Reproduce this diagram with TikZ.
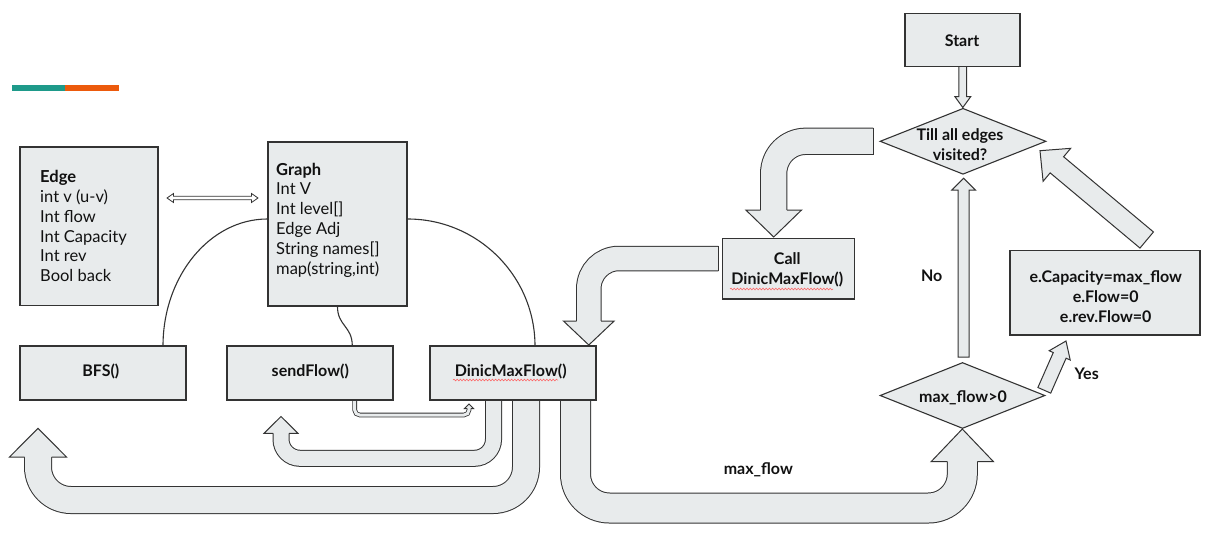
\documentclass[tikz,border=0pt]{standalone}
\usepackage{fontspec}
\setmainfont{Lato}
\usetikzlibrary{calc,shapes.geometric,decorations.pathmorphing}

\definecolor{boxfill}{RGB}{232,235,236}
\definecolor{ink}{RGB}{51,51,51}
\definecolor{txt}{RGB}{17,17,17}
\definecolor{barteal}{RGB}{30,154,138}
\definecolor{barorange}{RGB}{236,90,12}

% closed block arrow: start #1, tip #2, half shaft #3, half head #4, head length #5
\newcommand\fatarrow[5]{%
  \coordinate (fa-base) at ($(#2)!#5!(#1)$);
  \filldraw[blockarrow] ($(#1)!#3!90:(#2)$) -- ($(fa-base)!#3!90:(#2)$)
    -- ($(fa-base)!#4!90:(#2)$) -- (#2) -- ($(fa-base)!#4!-90:(#2)$)
    -- ($(fa-base)!#3!-90:(#2)$) -- ($(#1)!#3!-90:(#2)$) -- cycle;}
% open arrow head on a doubled shaft: base #1, tip #2, half shaft #3, half head #4
\newcommand\fathead[4]{%
  \filldraw[blockarrow] ($(#1)!#3!90:(#2)$) -- ($(#1)!#4!90:(#2)$) -- (#2)
    -- ($(#1)!#4!-90:(#2)$) -- ($(#1)!#3!-90:(#2)$);}

\begin{document}
\begin{tikzpicture}[x=1pt,y=-1pt,
  box/.style={draw=ink, line width=1.3pt, fill=boxfill, rectangle, inner sep=0pt},
  dia/.style={draw=ink, line width=1.1pt, fill=boxfill, diamond, inner sep=0pt},
  lbl/.style={font=\fontsize{16}{20}\selectfont\bfseries, text=txt, inner sep=0pt, align=center, anchor=base},
  listtxt/.style={font=\fontsize{16.5}{19.8}\selectfont, text=txt, inner sep=0pt, align=left, anchor=base west},
  blockarrow/.style={draw=ink, line width=1pt, fill=boxfill, line join=miter},
  fatshaft/.style={draw=ink, line width=1pt, double=boxfill, double distance=#1},
  link/.style={draw=ink, line width=1.1pt},
  squiggle/.style={draw=red!65!white, line width=0.5pt, decorate,
    decoration={snake, amplitude=0.9pt, segment length=3.2pt}}]

\fill[white] (0,0) rectangle (1209,555);
\useasboundingbox (0,0) rectangle (1209,555);

% header bar
\fill[barteal] (12,85) rectangle (65,91);
\fill[barorange] (65,85) rectangle (119,91);

% box positions
\coordinate (pEdge) at (89,226.3);
\coordinate (pGraph) at (337.5,224);

% links from the Graph structure to its methods
\node[box, minimum width=139pt, minimum height=164pt] (graph) at (pGraph) {};
\draw[link] ([yshift=5pt]graph.west) .. controls (210,219) and (163,276) .. (163,346) coordinate (bfsjoin);
\draw[link] ([yshift=5pt]graph.east) .. controls (477.7,219) and (535,276) .. (535,346) coordinate (dinicjoin);
\draw[link] (graph.south) .. controls (337.5,326) and (352.3,326) .. (352.3,346) coordinate (sendjoin);

% return arrows out of DinicMaxFlow()
\draw[fatshaft=26pt, rounded corners=33pt] (526,399) -- (526,500) -- (38,500) -- (38,456);
\fathead{38,457}{38,428.3}{13.5pt}{28.5pt}
\draw[fatshaft=15pt, rounded corners=19pt] (493.5,399) -- (493.5,458.3) -- (281,458.3) -- (281,432.5);
\fathead{281,433.3}{281,416.5}{8pt}{17pt}
\draw[fatshaft=29pt, rounded corners=34pt] (575.5,399) -- (575.5,508) -- (962.3,508) -- (962.3,460.7);
\fathead{962.3,461.7}{962.3,429}{15pt}{31.2pt}
\draw[fatshaft=3pt, line width=0.8pt, rounded corners=5pt] (354.7,399) -- (354.7,415) -- (469,415) -- (469,408);
\fathead{469,408.5}{469,404}{1.9pt}{4.5pt}

% decision loop arrows
\draw[fatshaft=25.3pt, rounded corners=32pt] (873,141.3) -- (773.7,141.3) -- (773.7,211);
\draw[ink, line width=1pt] (873,127.7) -- (873,154.9);
\fathead{773.7,210}{773.7,237}{13.15pt}{27.85pt}
\draw[fatshaft=23.5pt, rounded corners=30pt] (718.3,258.5) -- (588.8,258.5) -- (588.8,322);
\draw[ink, line width=1pt] (718.3,246.3) -- (718.3,270.7);
\fathead{588.8,321}{588.8,345}{12.25pt}{25.35pt}

\fatarrow{962.8,66}{962.8,107.5}{3.85pt}{7.85pt}{10.8pt}
\fatarrow{963.6,357}{963.6,178.3}{5.4pt}{11.7pt}{11.7pt}
\fatarrow{1146.7,240}{1040,150.7}{10.5pt}{21.5pt}{22pt}
\fatarrow{1044.3,390.3}{1066,341}{7pt}{11.5pt}{15.7pt}

% Edge <-> Graph
\filldraw[fill=white, draw=ink, line width=0.8pt] (167,198) -- (173.5,193.5) -- (173.5,196.2)
  -- (251.5,196.2) -- (251.5,193.5) -- (258,198) -- (251.5,202.5) -- (251.5,199.8)
  -- (173.5,199.8) -- (173.5,202.5) -- cycle;

% nodes
\node[box, minimum width=138pt, minimum height=158.7pt] (edge) at (pEdge) {};
\node[box, minimum width=166pt, minimum height=54pt] (bfs) at (103,373) {};
\node[box, minimum width=166pt, minimum height=54pt] (sendflow) at (310,373) {};
\node[box, minimum width=166pt, minimum height=54pt] (dinic) at (513,373) {};
\node[box, minimum width=115pt, minimum height=53.4pt] (start) at (962.5,40) {};
\node[dia, minimum width=166pt, minimum height=66pt] (till) at (963,141.3) {};
\node[box, minimum width=131.6pt, minimum height=60.7pt] (call) at (788.5,268.7) {};
\node[box, minimum width=190pt, minimum height=84.3pt] (ecap) at (1105,292.8) {};
\node[dia, minimum width=165pt, minimum height=66pt] (maxpos) at (962.5,395.5) {};

% texts (base anchor sits on the last line)
\node[listtxt] (edgetxt) at (40,281.7) {\textbf{Edge}\\int v (u-v)\\Int flow\\Int Capacity\\Int rev\\Bool back};
\node[listtxt] (graphtxt) at (276,274) {\textbf{Graph}\\Int V\\Int level[]\\Edge Adj\\String names[]\\map(string,int)};
\node[lbl] (bfstxt) at (100.8,376) {BFS()};
\node[lbl] (sendtxt) at (310.3,376) {sendFlow()};
\node[lbl] (dinictxt) at (510.7,376) {DinicMaxFlow()};
\node[lbl] (starttxt) at (962,46) {Start};
\node[lbl] (tilltxt) at (960,160.5) {Till all edges\\visited?};
\node[lbl] (calltxt) at (787.3,284.3) {Call\\DinicMaxFlow()};
\node[lbl] (ecaptxt) at (1105.7,322) {e.Capacity=max\_flow\\e.Flow=0\\e.rev.Flow=0};
\node[lbl] (maxpostxt) at (963,402) {max\_flow>0};
\node[lbl] (notxt) at (931.7,281.5) {No};
\node[lbl] (yestxt) at (1086.7,379) {Yes};
\node[lbl] (flowtxt) at (758.3,474.5) {max\_flow};

% spelling marks under the function name
\draw[squiggle] (453,380) -- (558,380);
\draw[squiggle] (730,289) -- (833,289);
\end{tikzpicture}
\end{document}
